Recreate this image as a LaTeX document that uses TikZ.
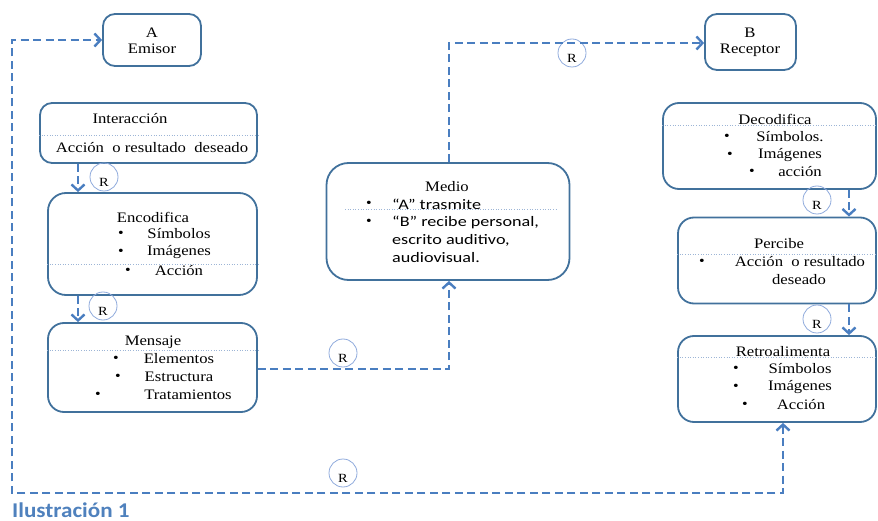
\documentclass[tikz,border=0pt]{standalone}
\usepackage{fontspec}
\setmainfont[FakeStretch=1.15]{Liberation Serif}
\newfontfamily\calib[FakeStretch=1.25]{Carlito}
\newfontfamily\calibcap[FakeStretch=1.1]{Carlito}
\usetikzlibrary{arrows.meta,shapes.geometric}
\definecolor{boxc}{HTML}{41719C}
\definecolor{linec}{HTML}{4A7EC0}
\definecolor{circc}{HTML}{8FAADC}
\definecolor{sepc}{HTML}{9DB5D6}
\definecolor{capc}{HTML}{4F81BD}
\tikzset{
  box/.style={draw=boxc, line width=1.8pt, rounded corners=12pt, inner sep=0pt},
  txt/.style={font=\fontsize{14.5}{18}\selectfont, inner sep=0pt, text=black},
  bul/.style={font=\fontsize{14}{18}\selectfont, inner sep=0pt},
  stxt/.style={font=\calib\fontsize{14.5}{18}\selectfont, inner sep=0pt, anchor=west},
  sep/.style={draw=sepc, line width=0.6pt, dotted},
  tip/.style={},
  conn/.style={draw=linec, line width=2.8pt, dash pattern=on 8pt off 4.5pt, -{Straight Barb[length=6pt,width=13pt,line width=2.4pt]}},
  conn2/.style={draw=linec, line width=2.8pt, dash pattern=on 8pt off 4.5pt, {Straight Barb[length=6pt,width=13pt,line width=2.4pt]}-{Straight Barb[length=6pt,width=13pt,line width=2.4pt]}},
  rc/.style={draw=circc, line width=0.8pt, ellipse, minimum width=28pt, minimum height=28pt, inner sep=0pt},
  rl/.style={font=\fontsize{12.5}{13}\selectfont, inner sep=0pt},
}
\begin{document}
\begin{tikzpicture}[x=1pt,y=-1pt]
\useasboundingbox (0,0) rectangle (878,521);
% boxes
\node[box, minimum width=98pt, minimum height=52pt] (A) at (152,40) {};
\node[box, minimum width=217pt, minimum height=60pt] (Int) at (148.5,133) {};
\node[box, minimum width=209pt, minimum height=102pt, rounded corners=18pt] (Enc) at (152.5,244) {};
\node[box, minimum width=209pt, minimum height=89pt, rounded corners=16pt] (Men) at (152.5,367.5) {};
\node[box, minimum width=243pt, minimum height=117pt, rounded corners=22pt] (Med) at (448,221.5) {};
\node[box, minimum width=91pt, minimum height=56pt] (B) at (750.5,42) {};
\node[box, minimum width=213pt, minimum height=86pt, rounded corners=16pt] (Dec) at (769.5,146) {};
\node[box, minimum width=198pt, minimum height=86pt, rounded corners=16pt] (Per) at (777,260.5) {};
\node[box, minimum width=198pt, minimum height=86pt, rounded corners=16pt] (Ret) at (777,379) {};
% separators
\draw[sep] (Int.west |- 0,135) -- (Int.east |- 0,135);
\draw[sep] (Enc.west |- 0,264) -- (Enc.east |- 0,264);
\draw[sep] (Men.west |- 0,350) -- (Men.east |- 0,350);
\draw[sep] (345,209) -- (558,209);
\draw[sep] (Dec.west |- 0,125) -- (Dec.east |- 0,125);
\draw[sep] (Per.west |- 0,254) -- (Per.east |- 0,254);
\draw[sep] (Ret.west |- 0,357) -- (Ret.east |- 0,357);
% texts A, B
\node[txt] (At) at (152,33) {A};
\node[txt] (Ae) at (152,49) {Emisor};
\node[txt] (Bt) at (750,33) {B};
\node[txt] (Br) at (750,50) {Receptor};
% Interaccion
\node[txt] (i1) at (130,119) {Interacción};
\node[txt] (i2) at (152,148) {Acción\ \ o resultado\ \ deseado};
% Encodifica
\node[txt] (e0) at (153,217) {Encodifica};
\node[bul] (eb1) at (121,234) {\textbullet};
\node[txt] (e1) at (179,234) {Símbolos};
\node[bul] (eb2) at (121,252) {\textbullet};
\node[txt] (e2) at (179,252) {Imágenes};
\node[bul] (eb3) at (128,271) {\textbullet};
\node[txt] (e3) at (179,271) {Acción};
% Mensaje
\node[txt] (m0) at (153,342) {Mensaje};
\node[bul] (mb1) at (116,359) {\textbullet};
\node[txt] (m1) at (179,359) {Elementos};
\node[bul] (mb2) at (118,377) {\textbullet};
\node[txt] (m2) at (179,377) {Estructura};
\node[bul] (mb3) at (98,395) {\textbullet};
\node[txt] (m3) at (188,395) {Tratamientos};
% Medio
\node[txt] (d0) at (447,187) {Medio};
\node[bul] (db1) at (369,204) {\textbullet};
\node[stxt] (d1) at (392,204) {“A” trasmite};
\node[bul] (db2) at (369,222) {\textbullet};
\node[stxt] (d2) at (392,222) {“B” recibe personal,};
\node[stxt] (d3) at (392,240) {escrito auditivo,};
\node[stxt] (d4) at (392,258) {audiovisual.};
% Decodifica
\node[txt] (c0) at (775,119) {Decodifica};
\node[bul] (cb1) at (727,137) {\textbullet};
\node[txt] (c1) at (790,137) {Símbolos.};
\node[bul] (cb2) at (730,155) {\textbullet};
\node[txt] (c2) at (790,155) {Imágenes};
\node[bul] (cb3) at (752,172) {\textbullet};
\node[txt] (c3) at (800,172) {acción};
% Percibe
\node[txt] (p0) at (779,244) {Percibe};
\node[bul] (pb1) at (702,262) {\textbullet};
\node[txt] (p1) at (800,262) {Acción\ \ o resultado};
\node[txt] (p2) at (799,280) {deseado};
% Retroalimenta
\node[txt] (t0) at (783,352) {Retroalimenta};
\node[bul] (tb1) at (736,369) {\textbullet};
\node[txt] (t1) at (800,369) {Símbolos};
\node[bul] (tb2) at (736,387) {\textbullet};
\node[txt] (t2) at (800,387) {Imágenes};
\node[bul] (tb3) at (745,405) {\textbullet};
\node[txt] (t3) at (801,405) {Acción};
% R circles
\node[rc] (r1) at (104,177) {};
\node[rl] at ([yshift=-5pt]r1.center) {R};
\node[rc] (r2) at (103,306) {};
\node[rl] at ([yshift=-5pt]r2.center) {R};
\node[rc] (r3) at (343,353) {};
\node[rl] at ([yshift=-5pt]r3.center) {R};
\node[rc] (r4) at (572,53) {};
\node[rl] at ([yshift=-5pt]r4.center) {R};
\node[rc] (r5) at (817,200) {};
\node[rl] at ([yshift=-5pt]r5.center) {R};
\node[rc] (r6) at (817,319) {};
\node[rl] at ([yshift=-5pt]r6.center) {R};
\node[rc] (r7) at (343,473) {};
\node[rl] at ([yshift=-5pt]r7.center) {R};
% connectors
\draw[conn] (Int.south -| 78,0) -- (Enc.north -| 78,0);
\draw[conn] (Enc.south -| 78,0) -- (Men.north -| 78,0);
\draw[conn] (Men.east |- 0,369) -| (Med.south -| 449,0);
\draw[conn] (Med.north -| 449,0) |- (B.west |- 0,43);
\draw[conn] (Dec.south -| 849,0) -- (Per.north -| 849,0);
\draw[conn] (Per.south -| 849,0) -- (Ret.north -| 849,0);
\coordinate (bl) at (12,493);
\draw[conn2] (Ret.south -| 783,0) |- (bl) |- (A.west);
% caption
\node[font=\calibcap\bfseries\fontsize{21}{24}\selectfont, text=capc, anchor=west, inner sep=0pt] (cap) at (12,510) {Ilustración 1};
\end{tikzpicture}
\end{document}
